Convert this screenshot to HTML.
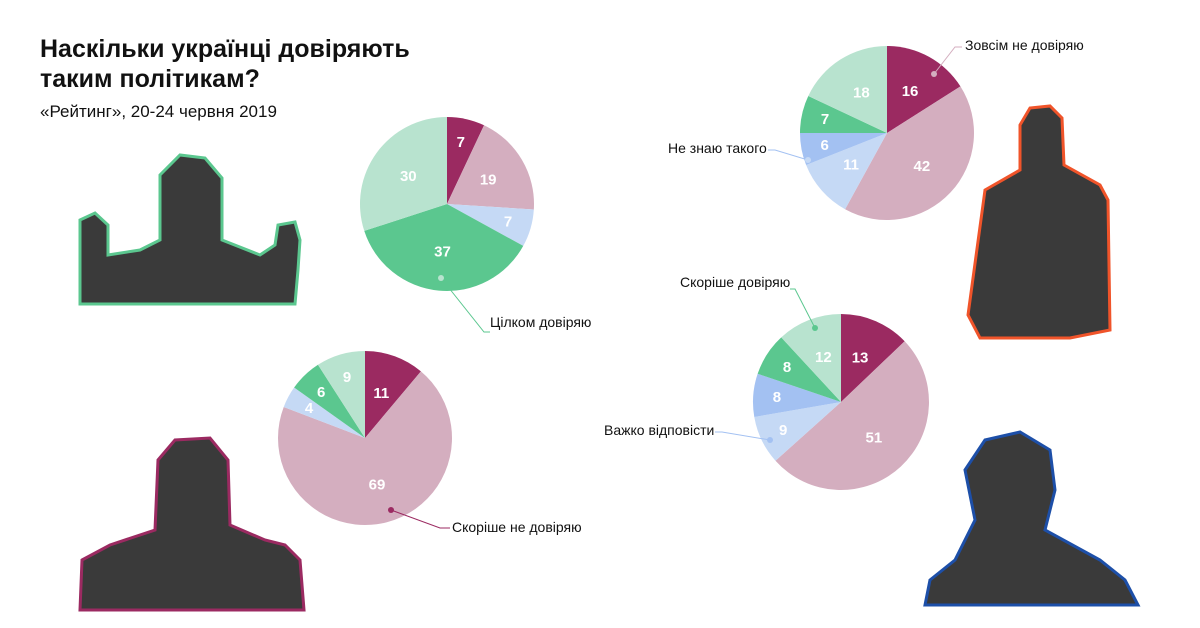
<!DOCTYPE html>
<html><head><meta charset="utf-8"><style>
body{margin:0;background:#fff;font-family:"Liberation Sans",Arial,sans-serif}
svg{display:block}
</style></head><body>
<svg id="s" width="1200" height="628" xmlns="http://www.w3.org/2000/svg" font-family="Liberation Sans, Arial, sans-serif">
<rect width="1200" height="628" fill="#fff"/>
<text x="40" y="57" font-size="25" font-weight="bold" fill="#111">Наскільки українці довіряють</text>
<text x="40" y="87" font-size="25" font-weight="bold" fill="#111">таким політикам?</text>
<text x="40" y="117" font-size="17" fill="#111">«Рейтинг», 20-24 червня 2019</text>

<g fill="#3a3a3a">
<path d="M80 220 L95 213 L108 225 L108 255 L140 250 L160 240 L160 175 L180 155 L205 158 L222 178 L222 240 L260 255 L275 245 L278 225 L295 222 L300 240 L298 270 L295 304 L80 304 Z" stroke="#5bc78f" stroke-width="3"/>
<path d="M1020 125 L1030 108 L1050 106 L1062 118 L1064 165 L1100 185 L1108 200 L1110 330 L1070 338 L980 338 L968 315 L985 190 L1020 170 Z" stroke="#f0542a" stroke-width="3"/>
<path d="M82 560 L110 545 L155 530 L158 460 L175 440 L210 438 L228 460 L230 525 L265 540 L285 545 L300 560 L304 610 L80 610 Z" stroke="#9b2a61" stroke-width="3"/>
<path d="M930 580 L955 560 L975 520 L965 470 L985 440 L1020 432 L1050 450 L1055 490 L1045 530 L1100 560 L1125 580 L1138 605 L925 605 Z" stroke="#1d4fa8" stroke-width="3"/>
</g>
<g id="pies"></g>

<g font-size="14" fill="#111">
<text x="490" y="327">Цілком довіряю</text>
<text x="452" y="532">Скоріше не довіряю</text>
<text x="965" y="50">Зовсім не довіряю</text>
<text x="668" y="153">Не знаю такого</text>
<text x="680" y="287">Скоріше довіряю</text>
<text x="604" y="435">Важко відповісти</text>
</g>
<g fill="none" stroke-width="1">
<polyline points="441,278 484,332 490,332" stroke="#5bc78f"/>
<polyline points="391,510 440,528 450,528" stroke="#9b2a61"/>
<polyline points="934,74 955,47 962,47" stroke="#d4aebf"/>
<polyline points="808,160 775,150 768,150" stroke="#a3c1f2"/>
<polyline points="815,328 795,289 790,289" stroke="#5bc78f"/>
<polyline points="770,440 722,432 715,432" stroke="#a3c1f2"/>
</g>
<g>
<circle cx="441" cy="278" r="3" fill="#b8e3cf"/>
<circle cx="391" cy="510" r="3" fill="#9b2a61"/>
<circle cx="934" cy="74" r="3" fill="#d4aebf"/>
<circle cx="808" cy="160" r="3" fill="#c5d9f5"/>
<circle cx="815" cy="328" r="3" fill="#5bc78f"/>
<circle cx="770" cy="440" r="3" fill="#a3c1f2"/>
</g>
</svg>
<script>
var C={d:"#9b2a61",p:"#d4aebf",lb:"#c5d9f5",b:"#a3c1f2",g:"#5bc78f",lg:"#b8e3cf"};
var pies=[
 [447,204,87,[[7,"d"],[19,"p"],[7,"lb"],[37,"g"],[30,"lg"]]],
 [365,438,87,[[11,"d"],[69,"p"],[4,"lb"],[6,"g"],[9,"lg"]]],
 [887,133,87,[[16,"d"],[42,"p"],[11,"lb"],[6,"b"],[7,"g"],[18,"lg"]]],
 [841,402,88,[[13,"d"],[51,"p"],[9,"lb"],[8,"b"],[8,"g"],[12,"lg"]]]
];
var g=document.getElementById("pies"),h="";
pies.forEach(function(P){
 var cx=P[0],cy=P[1],r=P[2],t=0,sum=0;P[3].forEach(function(s){sum+=s[0]});
 P[3].forEach(function(s){
  var a0=t/sum*2*Math.PI,a1=(t+s[0])/sum*2*Math.PI;t+=s[0];
  var x0=cx+r*Math.sin(a0),y0=cy-r*Math.cos(a0),x1=cx+r*Math.sin(a1),y1=cy-r*Math.cos(a1);
  h+='<path d="M'+cx+' '+cy+' L'+x0+' '+y0+' A'+r+' '+r+' 0 '+((a1-a0)>Math.PI?1:0)+' 1 '+x1+' '+y1+' Z" fill="'+C[s[1]]+'"/>';
  var am=(a0+a1)/2,rr=r*(s[0]<10?0.73:0.55);
  h+='<text x="'+(cx+rr*Math.sin(am))+'" y="'+(cy-rr*Math.cos(am)+5)+'" text-anchor="middle" font-size="15" font-weight="bold" fill="#fff">'+s[0]+'</text>';
 });
});
g.innerHTML=h;
</script>
</body></html>
